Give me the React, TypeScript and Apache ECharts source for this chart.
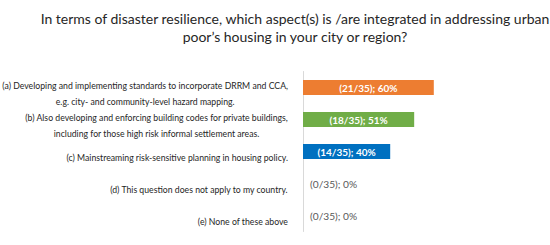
import React, { useEffect, useRef } from "react";
import * as echarts from "echarts";

const titleText =
  "In terms of disaster resilience, which aspect(s) is /are integrated in addressing urban\npoor\u2019s housing in your city or region?";

const categories = [
  "(a) Developing and implementing standards to incorporate DRRM and CCA,\ne.g. city- and community-level hazard mapping.",
  "(b) Also developing and enforcing building codes for private buildings,\nincluding for those high risk informal settlement areas.",
  "(c) Mainstreaming risk-sensitive planning in housing policy.",
  "(d) This question does not apply to my country.",
  "(e) None of these above",
];
const counts = [21, 18, 14, 0, 0];
const total = 35;
const percents = [60, 51, 40, 0, 0];
const barColors = ["#ED7D31", "#70AD47", "#0070C0", "#A5A5A5", "#A5A5A5"];

export default function App() {
  const ref = useRef<HTMLDivElement>(null);
  useEffect(() => {
    if (!ref.current) return;
    const chart = echarts.init(ref.current, null, { renderer: "svg" });
    const data = percents.map((p, i) => {
      const zero = p === 0;
      return {
        value: p,
        itemStyle: { color: barColors[i] },
        label: zero
          ? {
              show: true,
              position: "right",
              distance: 7,
              color: "#595959",
              fontWeight: "normal",
              fontSize: 10.2,
              fontFamily: "Lato",
            }
          : {
              show: true,
              position: "inside",
              color: "#ffffff",
              fontWeight: "bold",
              fontSize: 10,
              fontFamily: "Lato",
            },
      };
    });
    chart.setOption({
      animation: false,
      backgroundColor: "#ffffff",
      title: {
        text: titleText,
        left: 290,
        top: 4,
        textAlign: "center",
        textStyle: {
          fontFamily: "Lato",
          fontSize: 14,
          fontWeight: "normal",
          color: "#262626",
          lineHeight: 18,
        },
      },
      grid: {
        left: 303,
        right: 29,
        top: 71.5,
        height: 160,
        containLabel: false,
        outerBoundsMode: "none",
      },
      xAxis: {
        type: "value",
        min: 0,
        max: 100,
        show: false,
        splitLine: { show: false },
      },
      yAxis: {
        type: "category",
        inverse: true,
        data: categories,
        axisTick: { show: false },
        axisLine: { show: true, lineStyle: { color: "#d9d9d9", width: 1 } },
        axisLabel: {
          interval: 0,
          margin: 15,
          align: "right",
          verticalAlign: "middle",
          padding: [12, 0, 0, 0],
          formatter: (v: string) =>
            v
              .split("\n")
              .map((l) => `{c|${l}}`)
              .join("\n"),
          rich: {
            c: {
              align: "center",
              fontFamily: "Lato",
              fontSize: 8.7,
              color: "#262626",
              lineHeight: 16.5,
            },
          },
        },
      },
      series: [
        {
          type: "bar",
          data,
          barWidth: 15,
          label: {
            show: true,
            formatter: (p: any) =>
              `(${counts[p.dataIndex]}/${total}); ${percents[p.dataIndex]}%`,
          },
        },
      ],
    });
    return () => chart.dispose();
  }, []);
  return (
    <div
      ref={ref}
      style={{ position: "fixed", left: 0, top: 0, width: 550, height: 245, background: "#fff" }}
    />
  );
}
